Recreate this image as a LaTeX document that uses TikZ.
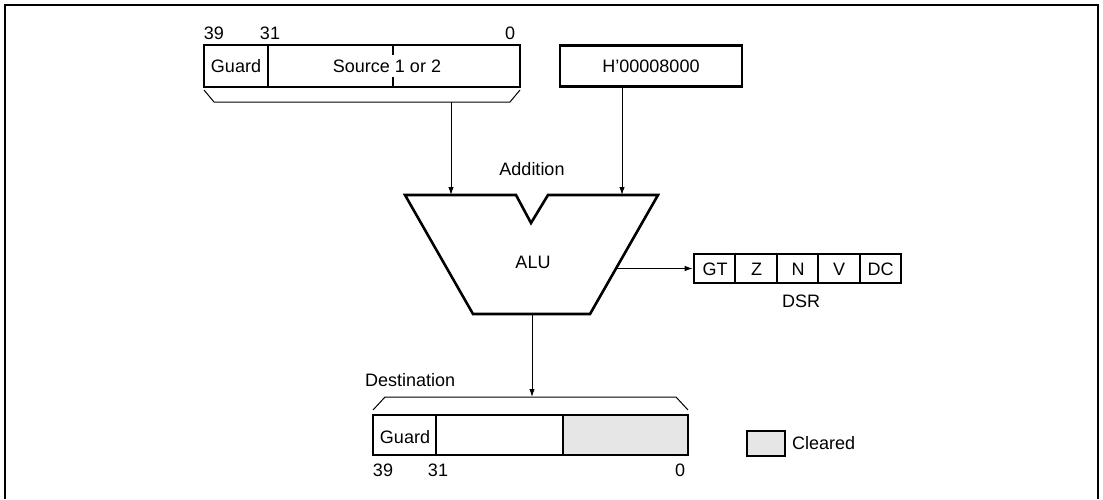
\documentclass[tikz,border=0pt]{standalone}
\usepackage{fontspec}
\setmainfont{Liberation Sans}
\usetikzlibrary{arrows.meta}
\definecolor{clr}{HTML}{E6E6E6}
\begin{document}
\begin{tikzpicture}[x=1pt,y=-1pt,
  every node/.style={font=\fontsize{18}{20}\selectfont, inner sep=0pt},
  regbox/.style={draw, line width=2.6pt, inner sep=0pt},
  divider/.style={line width=1.9pt},
  thin/.style={line width=1pt},
  arr/.style={line width=1pt, -{Latex[length=8pt,width=5.5pt]}},
  lbl/.style={anchor=center}]
\useasboundingbox (0,0) rectangle (1103,499);
% outer frame
\draw[line width=2.5pt] (5,499) -- (5,5) -- (1098,5) -- (1098,499);

% source register
\node[regbox, minimum width=316pt, minimum height=42pt] (src) at (362,66) {};
\draw[divider] (268,45) -- (268,87);
\draw[divider] (393,45) -- (393,55);
\draw[divider] (393,77) -- (393,87);
\node (sg) at (236,66) {Guard};
\node (st) at (387,66) {Source 1 or 2};
\node (s39) at (214,33) {39};
\node (s31) at (270,33) {31};
\node (s0) at (510,33) {0};
\draw[thin] (204,90) -- (214,102) -- (510,102) -- (520,90);
\coordinate (sb) at (451,102);

% constant
\node[regbox, minimum width=182pt, minimum height=41pt] (hc) at (651,66) {H'00008000};

% ALU
\draw[line width=2.6pt, line join=miter] (405,195) -- (516,195) -- (531,223) -- (548,195) -- (658,195) -- (590,314) -- (473,314) -- cycle;
\coordinate (alul) at (451,195);
\coordinate (alur) at (622,195);
\coordinate (aluo) at (617,268.5);
\coordinate (alub) at (532,314);
\node (add) at (532,169) {Addition};
\node (alu) at (533,262) {ALU};

\draw[arr] (sb) -- (alul);
\draw[arr] (hc.south -| alur) -- (alur);

% DSR
\node[regbox, minimum width=207pt, minimum height=29pt] (dsr) at (797.5,268.5) {};
\foreach \i in {1,2,3,4} { \draw[divider] ({694+41.4*\i},254) -- ({694+41.4*\i},283); }
\node (gt) at (715,269) {GT};
\node (z)  at (756.5,269) {Z};
\node (n)  at (798,269) {N};
\node (v)  at (839,269) {V};
\node (dc) at (880.5,269) {DC};
\node (dsrl) at (801,301) {DSR};
\draw[arr] (aluo) -- (dsr.west);

% destination
\node[anchor=west] (dl) at (365,380) {Destination};
\draw[thin] (373,410) -- (385,397) -- (676,397) -- (688,410);
\coordinate (db) at (532,397);
\draw[arr] (alub) -- (db);
\fill[clr] (563,415) rectangle (688,455);
\node[regbox, minimum width=315pt, minimum height=40pt] (dst) at (530.5,435) {};
\draw[divider] (436,415) -- (436,455);
\draw[divider] (563,415) -- (563,455);
\node (dg) at (405,437) {Guard};
\node (d39) at (383,470) {39};
\node (d31) at (438,470) {31};
\node (d0) at (680,470) {0};

% legend
\node[regbox, fill=clr, minimum width=38pt, minimum height=25pt] (leg) at (766,443.5) {};
\node[anchor=west] (legt) at (792,443) {Cleared};
\end{tikzpicture}
\end{document}
